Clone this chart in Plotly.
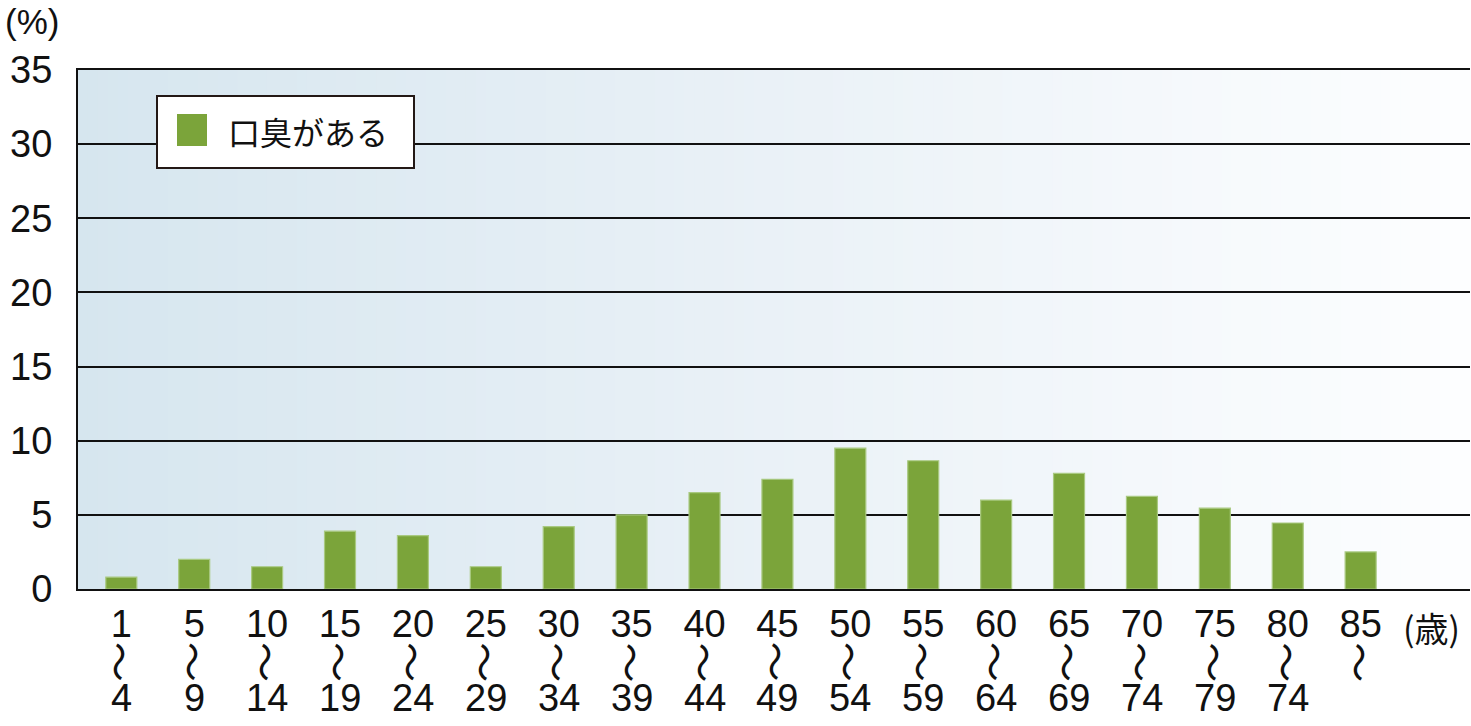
import plotly.graph_objects as go

# ---- data ----
age_start = ["1", "5", "10", "15", "20", "25", "30", "35", "40", "45",
             "50", "55", "60", "65", "70", "75", "80", "85"]
age_end = ["4", "9", "14", "19", "24", "29", "34", "39", "44", "49",
           "54", "59", "64", "69", "74", "79", "74", ""]
halitosis_pct = [0.8, 2.0, 1.5, 3.9, 3.6, 1.5, 4.2, 5.0, 6.5, 7.4,
                 9.5, 8.65, 6.0, 7.8, 6.25, 5.45, 4.45, 2.5]
series_name = "口臭がある"
y_ticks = [0, 5, 10, 15, 20, 25, 30, 35]

GREEN = "#7ba43a"
LATIN = "Liberation Sans, Arial, sans-serif"
CJK = "Noto Sans CJK JP, sans-serif"

xs = list(range(len(age_start)))

fig = go.Figure()
fig.add_trace(go.Bar(
    x=xs, y=halitosis_pct, name=series_name, width=0.425,
    marker=dict(color=GREEN, line=dict(color="#a9c981", width=1.2)),
    showlegend=False,
))

# ---- gradient background (strips) ----
def lerp(a, b, t):
    return tuple(round(a[i] + (b[i] - a[i]) * t) for i in range(3))

stops = [(0.0, (214, 230, 239)), (0.45, (232, 240, 246)), (1.0, (253, 254, 255))]
shapes = []
N = 140
for i in range(N):
    t = (i + 0.5) / N
    for j in range(len(stops) - 1):
        if stops[j][0] <= t <= stops[j + 1][0]:
            tt = (t - stops[j][0]) / (stops[j + 1][0] - stops[j][0])
            c = lerp(stops[j][1], stops[j + 1][1], tt)
            break
    shapes.append(dict(type="rect", xref="paper", yref="paper",
                       x0=i / N, x1=(i + 1) / N + 0.002, y0=0, y1=1,
                       fillcolor="rgb(%d,%d,%d)" % c, line=dict(width=0),
                       layer="below"))

# ---- manual legend ----
W, H = 1471, 726
ML, MR, MT, MB = 78, 1, 70, 137
PW, PH = W - ML - MR, H - MT - MB

def px(xp):
    return (xp - ML) / PW

def py(yp):
    return 1 - (yp - MT) / PH

shapes.append(dict(type="rect", xref="paper", yref="paper",
                   x0=px(157), x1=px(414), y0=py(168), y1=py(96),
                   fillcolor="white", line=dict(color="#231815", width=2),
                   layer="above"))
shapes.append(dict(type="rect", xref="paper", yref="paper",
                   x0=px(177), x1=px(207), y0=py(146), y1=py(114),
                   fillcolor=GREEN, line=dict(width=0), layer="above"))

annotations = [
    dict(text=series_name, xref="paper", yref="paper", x=px(226), y=py(131),
         xanchor="left", yanchor="middle", showarrow=False,
         font=dict(family=CJK, size=32, color="#111")),
    dict(text="(%)", xref="paper", yref="paper", x=px(3), y=py(21),
         xanchor="left", yanchor="middle", showarrow=False,
         font=dict(family=LATIN, size=35, color="#111")),
    dict(text="(歳)", xref="paper", yref="paper", x=px(1431), y=py(627),
         xanchor="center", yanchor="middle", showarrow=False,
         font=dict(family=CJK, size=34, color="#111")),
]
for i, (s, e) in enumerate(zip(age_start, age_end)):
    annotations.append(dict(text="〜", x=i, xref="x", yref="paper", y=0,
                            yshift=-73, xanchor="center", yanchor="middle",
                            textangle=90, showarrow=False,
                            font=dict(family=CJK, size=40, color="#111")))
    if e:
        annotations.append(dict(text=e, x=i, xref="x", yref="paper", y=0,
                                yshift=-109, xanchor="center", yanchor="middle",
                                showarrow=False,
                                font=dict(family=LATIN, size=38, color="#111")))

fig.update_layout(
    width=W, height=H,
    margin=dict(l=ML, r=MR, t=MT, b=MB, pad=0),
    paper_bgcolor="white", plot_bgcolor="white",
    shapes=shapes, annotations=annotations,
    bargap=0.5, showlegend=False,
)
fig.update_xaxes(
    range=[-0.594, 18.5], tickmode="array", tickvals=xs, ticktext=age_start,
    showgrid=False, ticks="", showline=True, linecolor="#111", linewidth=2,
    mirror=True, zeroline=False,
    tickfont=dict(family=LATIN, size=38, color="#111"), ticklabelstandoff=0,
)
fig.update_yaxes(
    range=[0, 35], tickmode="array", tickvals=y_ticks,
    showgrid=True, gridcolor="#111", gridwidth=2,
    ticks="", showline=True, linecolor="#111", linewidth=2, zeroline=False,
    tickfont=dict(family=LATIN, size=38, color="#111"), ticklabelstandoff=16,
)

fig.write_html(
    "out.html",
    config={"displayModeBar": False},
    post_script="document.body.style.margin='0';document.body.style.overflow='hidden';",
)
